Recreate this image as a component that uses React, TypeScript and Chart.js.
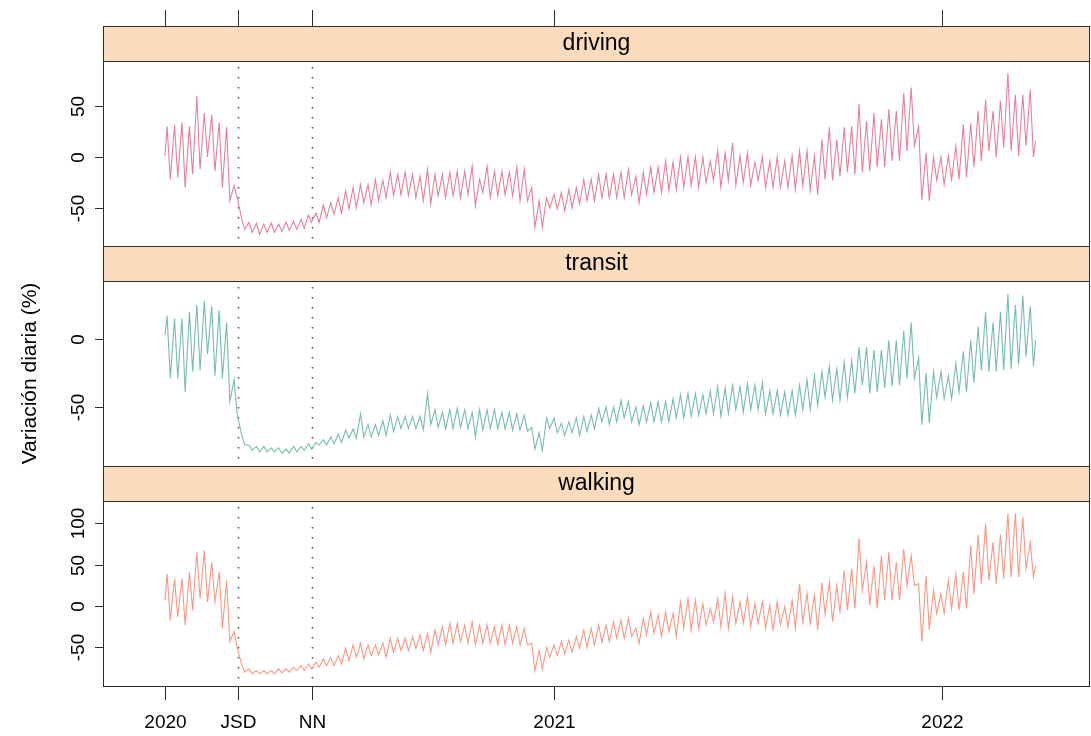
import React, { useEffect, useRef } from 'react';
import { Chart, registerables } from 'chart.js';

Chart.register(...registerables);

// ---- axis / annotation data ----
const tickDays = [0, 69, 138, 366, 731];
const tickLabels = ['2020', 'JSD', 'NN', '2021', '2022'];
const policyDays = [69, 138];
const panelNames = ['driving', 'transit', 'walking'];
const drivingTicks = [-50, 0, 50];
const transitTicks = [-50, 0];
const walkingTicks = [-50, 0, 50, 100];
const yTitle = 'Variación diaria (%)';

// ---- series: first day, weekly high / weekly low, last day ----
const lastDay = 819;

const drivingStart = 1;
const drivingEnd = 16;
const drivingHigh = [
  30, 31, 34, 30, 60, 43, 41, 34, 29, -28,
  -60, -64, -65, -66, -65, -66, -64, -63, -61, -57,
  -55, -47, -45, -40, -33, -30, -27, -27, -22, -23,
  -15, -17, -15, -17, -19, -12, -17, -17, -15, -14,
  -14, -9, -22, -9, -14, -14, -15, -10, -12, -30,
  -43, -40, -37, -35, -32, -30, -22, -22, -17, -17,
  -17, -15, -12, -19, -15, -10, -10, -4, -5, 0,
  0, 0, 0, -4, 6, 4, 14, 1, 4, -5,
  0, -4, 0, -4, 1, 6, 6, 1, 17, 29,
  17, 29, 30, 52, 35, 43, 37, 47, 45, 63,
  68, 30, 4, 0, 0, 1, 11, 32, 33, 45,
  56, 45, 55, 82, 61, 61, 66,
];
const drivingLow = [
  -22, -20, -30, -17, -12, 0, -14, -30, -43, -40,
  -71, -74, -76, -74, -74, -73, -72, -71, -70, -64,
  -64, -60, -56, -55, -51, -50, -45, -47, -43, -40,
  -38, -37, -38, -40, -43, -46, -38, -40, -38, -40,
  -37, -48, -35, -40, -38, -37, -38, -43, -43, -69,
  -69, -50, -51, -53, -50, -46, -43, -43, -40, -40,
  -40, -40, -37, -45, -37, -35, -35, -33, -32, -30,
  -28, -30, -25, -23, -30, -23, -28, -25, -28, -23,
  -30, -30, -30, -30, -32, -28, -33, -37, -22, -23,
  -19, -15, -17, -15, -14, -10, -10, -4, -4, 6,
  11, -42, -43, -23, -27, -22, -22, -20, -10, -4,
  6, 0, 9, 6, 1, 11, 0,
];

const transitStart = 3;
const transitEnd = -1;
const transitHigh = [
  17, 15, 15, 20, 25, 28, 24, 21, 12, -30,
  -70, -78, -79, -79, -80, -80, -81, -79, -79, -77,
  -76, -74, -72, -70, -67, -66, -55, -63, -63, -60,
  -56, -57, -57, -57, -57, -40, -52, -54, -52, -51,
  -52, -54, -52, -52, -52, -54, -54, -55, -56, -65,
  -69, -58, -58, -62, -61, -58, -57, -56, -51, -50,
  -50, -45, -46, -50, -49, -47, -46, -46, -44, -41,
  -40, -40, -41, -38, -35, -36, -34, -35, -33, -34,
  -32, -38, -38, -39, -38, -34, -30, -27, -24, -20,
  -22, -17, -16, -6, -6, -8, -8, -1, -1, 6,
  12, -14, -25, -24, -24, -27, -18, -9, -1, 9,
  20, 12, 20, 33, 25, 32, 24,
];
const transitLow = [
  -29, -29, -39, -24, -23, -11, -27, -29, -46, -56,
  -78, -82, -83, -83, -83, -84, -84, -83, -82, -81,
  -78, -78, -77, -76, -73, -73, -72, -72, -71, -71,
  -68, -66, -66, -66, -67, -63, -65, -66, -66, -65,
  -66, -72, -67, -66, -66, -66, -67, -67, -68, -81,
  -82, -66, -69, -71, -69, -71, -68, -66, -61, -63,
  -61, -58, -61, -63, -61, -61, -61, -61, -58, -58,
  -57, -56, -55, -55, -57, -55, -52, -54, -52, -52,
  -55, -55, -56, -56, -56, -52, -52, -49, -43, -45,
  -45, -43, -40, -34, -40, -39, -36, -35, -34, -29,
  -29, -63, -62, -43, -44, -44, -39, -39, -32, -23,
  -24, -24, -23, -22, -19, -13, -20,
];

const walkingStart = 7;
const walkingEnd = 49;
const walkingHigh = [
  39, 33, 33, 41, 65, 67, 53, 41, 31, -31,
  -70, -76, -78, -78, -78, -76, -76, -74, -72, -70,
  -68, -64, -62, -60, -51, -47, -45, -47, -47, -45,
  -39, -39, -39, -37, -35, -33, -29, -25, -21, -21,
  -23, -19, -23, -23, -25, -23, -23, -25, -27, -45,
  -54, -50, -47, -43, -41, -37, -29, -27, -23, -23,
  -19, -17, -15, -27, -15, -7, -11, -7, -9, 5,
  9, 7, 3, -3, 9, 15, 11, 5, 11, 3,
  5, 1, 5, -1, 7, 27, 15, 13, 28, 29,
  25, 43, 45, 82, 53, 49, 61, 65, 53, 69,
  61, 27, 37, 19, 15, 31, 39, 41, 73, 86,
  100, 77, 86, 112, 112, 108, 77,
];
const walkingLow = [
  -17, -13, -23, -5, 9, 5, 5, -27, -43, -51,
  -80, -82, -82, -82, -82, -81, -80, -78, -78, -76,
  -74, -72, -72, -70, -66, -62, -64, -60, -59, -62,
  -56, -54, -54, -51, -54, -56, -47, -47, -45, -43,
  -45, -47, -45, -45, -47, -47, -45, -47, -47, -78,
  -76, -62, -60, -58, -56, -51, -50, -47, -44, -43,
  -39, -39, -37, -45, -35, -33, -37, -31, -37, -27,
  -29, -27, -23, -19, -25, -27, -21, -21, -25, -21,
  -27, -29, -23, -25, -27, -19, -21, -29, -10, -19,
  -7, -5, -3, 19, 1, -3, 7, 7, 7, 25,
  25, -43, -29, -9, -9, -3, -5, -3, 15, 27,
  31, 27, 33, 35, 35, 45, 35,
];

// ---- layout & style ----
const W = 1091;
const H = 736;
const AREA_LEFT = 103;
const AREA_RIGHT = 1090;
const AREA_TOP = 26;
const AREA_BOTTOM = 686;
const STRIP_H = 35;
const PANEL_H = 185;
const X_MIN = -58.3;
const X_MAX = 870.2;
const FONT = "'Liberation Sans', Arial, Helvetica, sans-serif";
const STRIP_BG = '#FDDCBE';
const FRAME = '#2b2b2b';
const COLORS = ['#E6809A', '#77BCB1', '#F89884'];
const PANEL_RANGES = [
  [-87.3, 94.1],
  [-93.4, 42.6],
  [-96.7, 127.0],
];

function buildSeries(start: number, highs: number[], lows: number[], end: number) {
  const pts: { x: number; y: number }[] = [{ x: 0, y: start }];
  highs.forEach((h, k) => {
    pts.push({ x: 7 * k + 2, y: h });
    pts.push({ x: 7 * k + 5, y: lows[k] });
  });
  pts.push({ x: lastDay, y: end });
  return pts;
}

function panelScale(i: number) {
  const [vmin, vmax] = PANEL_RANGES[i];
  const top = AREA_TOP + STRIP_H + i * (STRIP_H + PANEL_H);
  const bottom = top + PANEL_H;
  const upp = (vmax - vmin) / PANEL_H;
  return {
    type: 'linear' as const,
    display: false,
    min: vmin - (AREA_BOTTOM - bottom) * upp,
    max: vmax + (top - AREA_TOP) * upp,
  };
}

const AXES = ['yD', 'yT', 'yW'];
const TICKS = [drivingTicks, transitTicks, walkingTicks];

const panelsPlugin = {
  id: 'latticePanels',
  beforeDraw(chart: any) {
    const ctx = chart.ctx;
    ctx.save();
    ctx.fillStyle = '#ffffff';
    ctx.fillRect(0, 0, chart.width, chart.height);
    ctx.restore();
  },
  beforeDatasetsDraw(chart: any) {
    const ctx = chart.ctx;
    const { left, right } = chart.chartArea;
    const xs = chart.scales.x;
    ctx.save();
    AXES.forEach((ax, i) => {
      const ys = chart.scales[ax];
      const [vmin, vmax] = PANEL_RANGES[i];
      const top = ys.getPixelForValue(vmax);
      const bottom = ys.getPixelForValue(vmin);
      // strip
      ctx.fillStyle = STRIP_BG;
      ctx.fillRect(left, top - STRIP_H, right - left, STRIP_H);
      ctx.fillStyle = '#000';
      ctx.font = `23px ${FONT}`;
      ctx.textAlign = 'center';
      ctx.textBaseline = 'middle';
      ctx.fillText(panelNames[i], (left + right) / 2, top - STRIP_H / 2);
      // dotted reference lines
      ctx.strokeStyle = '#555';
      ctx.lineWidth = 1.6;
      ctx.setLineDash([1.6, 8.4]);
      policyDays.forEach((d) => {
        const x = Math.round(xs.getPixelForValue(d)) + 0.5;
        ctx.beginPath();
        ctx.moveTo(x, top + 6);
        ctx.lineTo(x, bottom);
        ctx.stroke();
      });
      ctx.setLineDash([]);
    });
    ctx.restore();
  },
  afterDatasetsDraw(chart: any) {
    const ctx = chart.ctx;
    const { left, right } = chart.chartArea;
    const xs = chart.scales.x;
    ctx.save();
    ctx.strokeStyle = FRAME;
    ctx.lineWidth = 1;
    AXES.forEach((ax, i) => {
      const ys = chart.scales[ax];
      const [vmin, vmax] = PANEL_RANGES[i];
      const top = Math.round(ys.getPixelForValue(vmax)) + 0.5;
      const bottom = Math.round(ys.getPixelForValue(vmin)) + 0.5;
      // strip & panel frames
      ctx.strokeRect(left + 0.5, top - STRIP_H, right - left - 1, STRIP_H);
      ctx.strokeRect(left + 0.5, top, right - left - 1, bottom - top);
      // y ticks
      ctx.fillStyle = '#000';
      ctx.font = `19px ${FONT}`;
      ctx.textAlign = 'center';
      ctx.textBaseline = 'middle';
      TICKS[i].forEach((v) => {
        const y = Math.round(ys.getPixelForValue(v)) + 0.5;
        ctx.beginPath();
        ctx.moveTo(left - 8, y);
        ctx.lineTo(left, y);
        ctx.stroke();
        ctx.save();
        ctx.translate(left - 24, y);
        ctx.rotate(-Math.PI / 2);
        ctx.fillText(String(v), 0, 0);
        ctx.restore();
      });
    });
    // x ticks: top (above first strip) and bottom
    const firstTop = chart.scales[AXES[0]].getPixelForValue(PANEL_RANGES[0][1]) - STRIP_H;
    const lastBottom = chart.scales[AXES[2]].getPixelForValue(PANEL_RANGES[2][0]);
    ctx.font = `19px ${FONT}`;
    ctx.textAlign = 'center';
    ctx.textBaseline = 'middle';
    tickDays.forEach((d, j) => {
      const x = Math.round(xs.getPixelForValue(d)) + 0.5;
      ctx.beginPath();
      ctx.moveTo(x, firstTop);
      ctx.lineTo(x, firstTop - 16);
      ctx.moveTo(x, lastBottom);
      ctx.lineTo(x, lastBottom + 14);
      ctx.stroke();
      ctx.fillText(tickLabels[j], x, lastBottom + 37);
    });
    // y title
    ctx.save();
    ctx.translate(30, (AREA_TOP + STRIP_H + AREA_BOTTOM) / 2);
    ctx.rotate(-Math.PI / 2);
    ctx.font = `21px ${FONT}`;
    ctx.fillText(yTitle, 0, 0);
    ctx.restore();
    ctx.restore();
  },
};

export default function App() {
  const ref = useRef<HTMLCanvasElement>(null);
  useEffect(() => {
    const series = [
      buildSeries(drivingStart, drivingHigh, drivingLow, drivingEnd),
      buildSeries(transitStart, transitHigh, transitLow, transitEnd),
      buildSeries(walkingStart, walkingHigh, walkingLow, walkingEnd),
    ];
    const chart = new Chart(ref.current as HTMLCanvasElement, {
      type: 'line',
      data: {
        datasets: series.map((d, i) => ({
          label: panelNames[i],
          data: d,
          yAxisID: AXES[i],
          xAxisID: 'x',
          borderColor: COLORS[i],
          borderWidth: 1.1,
          pointRadius: 0,
          tension: 0,
          fill: false,
        })),
      },
      options: {
        animation: false,
        responsive: false,
        devicePixelRatio: 1,
        layout: {
          padding: { left: AREA_LEFT, right: W - AREA_RIGHT, top: AREA_TOP, bottom: H - AREA_BOTTOM },
        },
        plugins: { legend: { display: false }, tooltip: { enabled: false } },
        scales: {
          x: { type: 'linear', display: false, min: X_MIN, max: X_MAX },
          yD: panelScale(0),
          yT: panelScale(1),
          yW: panelScale(2),
        },
      },
      plugins: [panelsPlugin],
    } as any);
    return () => chart.destroy();
  }, []);
  return (
    <div style={{ position: 'fixed', left: 0, top: 0, width: W, height: H, background: '#fff' }}>
      <canvas ref={ref} width={W} height={H} style={{ display: 'block', width: W, height: H }} />
    </div>
  );
}
